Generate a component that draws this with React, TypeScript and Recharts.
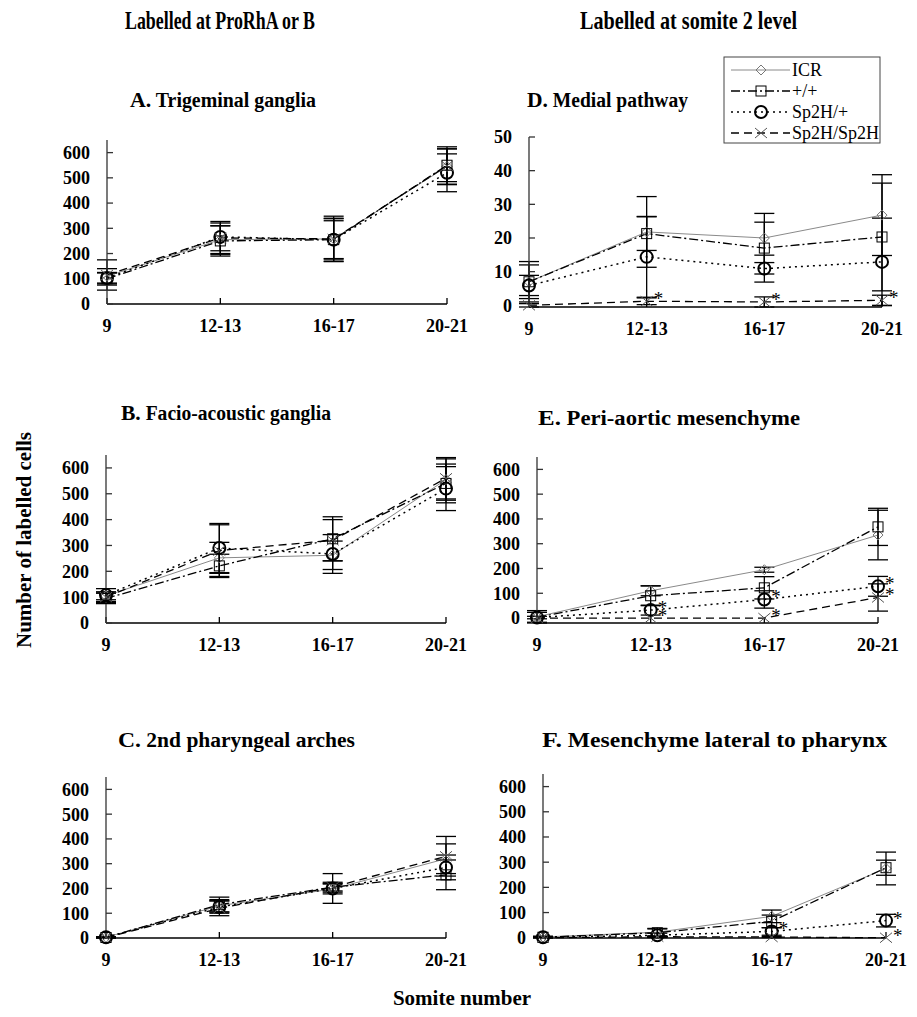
import React from "react";
import { LineChart, Line, XAxis, YAxis, ErrorBar, LabelList } from "recharts";

const stages = ["9", "12-13", "16-17", "20-21"];
const seriesNames = ["ICR", "+/+", "Sp2H/+", "Sp2H/Sp2H"];

// rows follow seriesNames order
const trigeminalMeans = [
  [110, 255, 258, 545],
  [100, 250, 255, 550],
  [103, 266, 255, 520],
  [115, 262, 258, 548],
];
const trigeminalSd = [
  [30, 55, 80, 70],
  [25, 60, 75, 65],
  [20, 55, 85, 75],
  [60, 65, 90, 75],
];

const facioMeans = [
  [105, 252, 262, 555],
  [95, 221, 326, 540],
  [108, 290, 267, 520],
  [100, 280, 320, 560],
];
const facioSd = [
  [15, 60, 55, 80],
  [20, 45, 85, 75],
  [25, 95, 75, 85],
  [20, 100, 80, 80],
];

const archMeans = [
  [3, 130, 198, 320],
  [2, 135, 205, 255],
  [3, 125, 200, 285],
  [2, 120, 205, 330],
];
const archSd = [
  [2, 25, 20, 60],
  [2, 30, 20, 60],
  [2, 25, 60, 50],
  [2, 30, 15, 80],
];

const medialMeans = [
  [7, 21.8, 20, 26.8],
  [7, 21.3, 17, 20.3],
  [5.9, 14.4, 10.9, 12.9],
  [0, 1.2, 1, 1.5],
];
const medialSd = [
  [5, 10.5, 7.3, 12],
  [6, 5, 7.7, 16],
  [3, 12, 4, 13],
  [0.5, 1, 1.5, 1.5],
];
const medialSig = [
  ["", "", "", ""],
  ["", "", "", ""],
  ["", "", "", ""],
  ["", "*", "*", "*"],
];

const aorticMeans = [
  [5, 110, 195, 335],
  [3, 90, 122, 368],
  [2, 32, 75, 128],
  [0, 0, 0, 83],
];
const aorticSd = [
  [25, 20, 10, 100],
  [20, 40, 45, 75],
  [5, 20, 35, 40],
  [0, 0, 0, 55],
];
const aorticSig = [
  ["", "", "", ""],
  ["", "", "", ""],
  ["", "*", "*", "*"],
  ["", "*", "*", "*"],
];

const lateralMeans = [
  [3, 22, 85, 275],
  [2, 20, 65, 278],
  [2, 10, 25, 68],
  [0, 4, 3, 0],
];
const lateralSd = [
  [3, 15, 25, 65],
  [3, 15, 25, 30],
  [2, 8, 15, 25],
  [0, 3, 2, 0],
];
const lateralSig = [
  ["", "", "", ""],
  ["", "", "", ""],
  ["", "", "*", "*"],
  ["", "", "", "*"],
];

const bigTicks = [0, 100, 200, 300, 400, 500, 600];
const smallTicks = [0, 10, 20, 30, 40, 50];

const FONT = "'Liberation Serif', 'Times New Roman', serif";

const SERIES = [
  { key: "icr", stroke: "#8a8a8a", width: 1, dash: undefined, marker: "diamond" },
  { key: "wt", stroke: "#000", width: 1.3, dash: "9 3 2 3", marker: "square" },
  { key: "het", stroke: "#000", width: 1.5, dash: "2 4", marker: "circle" },
  { key: "hom", stroke: "#000", width: 1.3, dash: "8 5", marker: "cross" },
];

function markerShape(marker: string, cx: number, cy: number, key?: string) {
  switch (marker) {
    case "diamond":
      return (
        <path key={key} d={`M${cx},${cy - 5}L${cx + 5},${cy}L${cx},${cy + 5}L${cx - 5},${cy}Z`} fill="none" stroke="#777" strokeWidth={1} />
      );
    case "square":
      return <rect key={key} x={cx - 5} y={cy - 5} width={10} height={10} fill="none" stroke="#000" strokeWidth={1} />;
    case "circle":
      return <circle key={key} cx={cx} cy={cy} r={6} fill="none" stroke="#000" strokeWidth={2} />;
    default:
      return (
        <g key={key} stroke="#555" strokeWidth={1}>
          <line x1={cx - 6} y1={cy - 5} x2={cx + 6} y2={cy + 5} />
          <line x1={cx - 6} y1={cy + 5} x2={cx + 6} y2={cy - 5} />
        </g>
      );
  }
}

const renderDot = (marker: string) => (p: any) => {
  const k = `${marker}-${p.index}`;
  if (p.cx == null || p.cy == null) return <g key={k} />;
  return markerShape(marker, p.cx, p.cy, k);
};

const renderStar = (p: any) =>
  p.value ? (
    <text x={p.x + 7} y={p.y + 4} fontSize={19} fontFamily={FONT} fill="#000">
      {p.value}
    </text>
  ) : null;

const tickStyle = { fill: "#000", fontSize: 18, fontWeight: "bold", fontFamily: FONT };

interface PanelProps {
  means: number[][];
  sd: number[][];
  sig?: string[][];
  yMax: number;
  yTicks: number[];
  plotLeft: number;
  plotRight: number;
  plotTop: number;
  zeroY: number;
}

function Panel({ means, sd, sig, yMax, yTicks, plotLeft, plotRight, plotTop, zeroY }: PanelProps) {
  const rows = stages.map((s, i) => {
    const r: any = { x: i, stage: s };
    SERIES.forEach((ser, j) => {
      r[ser.key] = means[j][i];
      r[ser.key + "Sd"] = sd[j][i];
      r[ser.key + "Sig"] = sig ? sig[j][i] : "";
    });
    return r;
  });
  const yAxisW = 60;
  const xAxisH = 40;
  const mTop = 10;
  const mRight = 28;
  const width = plotRight - plotLeft + yAxisW + mRight;
  const height = zeroY - plotTop + mTop + xAxisH;

  return (
    <div style={{ position: "absolute", left: plotLeft - yAxisW, top: plotTop - mTop }}>
      <LineChart width={width} height={height} data={rows} margin={{ top: mTop, right: mRight, left: 0, bottom: 0 }}>
        <XAxis
          type="number"
          dataKey="x"
          domain={[0, 3]}
          ticks={[0, 1, 2, 3]}
          interval={0}
          tickFormatter={(v: number) => stages[v]}
          height={xAxisH}
          tickSize={-6}
          tickMargin={21}
          stroke="#000"
          strokeWidth={1.3}
          tick={tickStyle}
        />
        <YAxis
          type="number"
          domain={[0, yMax]}
          ticks={yTicks}
          interval={0}
          width={yAxisW}
          tickSize={-6}
          tickMargin={23}
          stroke="#333"
          strokeWidth={1.3}
          tick={tickStyle}
        />
        {SERIES.map((ser) => (
          <Line
            key={ser.key}
            type="linear"
            dataKey={ser.key}
            stroke={ser.stroke}
            strokeWidth={ser.width}
            strokeDasharray={ser.dash}
            dot={renderDot(ser.marker)}
            activeDot={false}
            isAnimationActive={false}
          >
            <ErrorBar dataKey={ser.key + "Sd"} width={10} stroke="#000" strokeWidth={1.3} direction="y" />
            <LabelList dataKey={ser.key + "Sig"} content={renderStar} />
          </Line>
        ))}
      </LineChart>
    </div>
  );
}

function Legend() {
  const rowsY = [70, 91, 112, 133];
  return (
    <g>
      <rect x={724} y={57} width={156} height={86} fill="#fff" stroke="#444" strokeWidth={1} />
      {SERIES.map((ser, i) => (
        <g key={ser.key}>
          <line x1={731} y1={rowsY[i]} x2={790} y2={rowsY[i]} stroke={ser.stroke} strokeWidth={ser.width} strokeDasharray={ser.dash} />
          {markerShape(ser.marker, 761, rowsY[i])}
          <text x={792} y={rowsY[i] + 6} fontSize={18} fontFamily={FONT} fill="#000">
            {seriesNames[i]}
          </text>
        </g>
      ))}
    </g>
  );
}

function Title({ x, y, letter, text, len }: { x: number; y: number; letter: string; text: string; len: number }) {
  return (
    <text x={x} y={y} fontFamily={FONT} fontWeight="bold" fill="#000" textLength={len} lengthAdjust="spacingAndGlyphs">
      <tspan fontSize={22}>{letter}</tspan>
      <tspan fontSize={20}>{" " + text}</tspan>
    </text>
  );
}

export default function App() {
  return (
    <div style={{ position: "absolute", left: 0, top: 0, width: 917, height: 1017, background: "#fff", overflow: "hidden" }}>
      <Panel means={trigeminalMeans} sd={trigeminalSd} yMax={650} yTicks={bigTicks} plotLeft={107} plotRight={447} plotTop={140} zeroY={304} />
      <Panel means={facioMeans} sd={facioSd} yMax={650} yTicks={bigTicks} plotLeft={106} plotRight={446} plotTop={455} zeroY={623} />
      <Panel means={archMeans} sd={archSd} yMax={650} yTicks={bigTicks} plotLeft={106} plotRight={446} plotTop={777} zeroY={938} />
      <Panel means={medialMeans} sd={medialSd} sig={medialSig} yMax={50} yTicks={smallTicks} plotLeft={529} plotRight={882} plotTop={137} zeroY={307} />
      <Panel means={aorticMeans} sd={aorticSd} sig={aorticSig} yMax={650} yTicks={bigTicks} plotLeft={537} plotRight={878} plotTop={457} zeroY={623} />
      <Panel means={lateralMeans} sd={lateralSd} sig={lateralSig} yMax={650} yTicks={bigTicks} plotLeft={543} plotRight={886} plotTop={774} zeroY={938} />

      <svg width={917} height={1017} style={{ position: "absolute", left: 0, top: 0, pointerEvents: "none" }}>
        <text x={125} y={29} fontFamily={FONT} fontWeight="bold" fontSize={25} textLength={190} lengthAdjust="spacingAndGlyphs">
          Labelled at ProRhA or B
        </text>
        <text x={580} y={29} fontFamily={FONT} fontWeight="bold" fontSize={25} textLength={217} lengthAdjust="spacingAndGlyphs">
          Labelled at somite 2 level
        </text>

        <Title x={130} y={107} letter="A." text="Trigeminal ganglia" len={186} />
        <Title x={527} y={107} letter="D." text="Medial pathway" len={161} />
        <Title x={121} y={420} letter="B." text="Facio-acoustic ganglia" len={210} />
        <Title x={538} y={425} letter="E." text="Peri-aortic mesenchyme" len={262} />
        <Title x={118} y={747} letter="C." text="2nd pharyngeal arches" len={237} />
        <Title x={542} y={747} letter="F." text="Mesenchyme lateral to pharynx" len={345} />

        <text
          x={0}
          y={0}
          transform="translate(31, 540) rotate(-90)"
          textAnchor="middle"
          fontFamily={FONT}
          fontWeight="bold"
          fontSize={21}
        >
          Number of labelled cells
        </text>
        <text x={462} y={1005} textAnchor="middle" fontFamily={FONT} fontWeight="bold" fontSize={21}>
          Somite number
        </text>

        <Legend />
      </svg>
    </div>
  );
}
